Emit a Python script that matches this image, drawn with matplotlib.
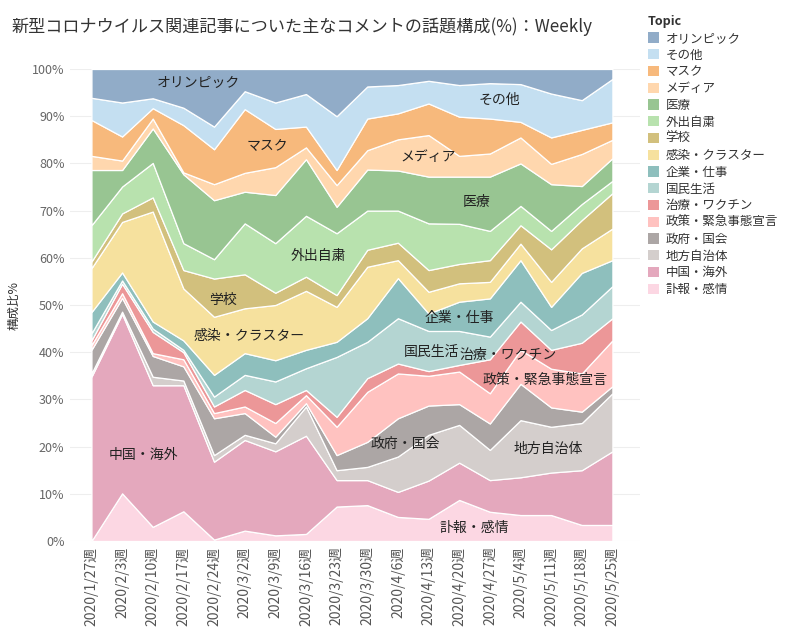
import matplotlib
matplotlib.use("Agg")
import matplotlib.pyplot as plt
from matplotlib.patches import Patch
import numpy as np

plt.rcParams['font.family'] = ['Noto Sans CJK JP', 'DejaVu Sans']

weeks = ["2020/1/27週", "2020/2/3週", "2020/2/10週", "2020/2/17週", "2020/2/24週",
         "2020/3/2週", "2020/3/9週", "2020/3/16週", "2020/3/23週", "2020/3/30週",
         "2020/4/6週", "2020/4/13週", "2020/4/20週", "2020/4/27週", "2020/5/4週",
         "2020/5/11週", "2020/5/18週", "2020/5/25週"]

# values in %, bottom of stack first
fuho      = [0.0, 10.1, 3.0, 6.3, 0.3, 2.2, 1.2, 1.5, 7.3, 7.6, 5.1, 4.7, 8.7, 6.2, 5.5, 5.5, 3.4, 3.4]
chugoku   = [34.8, 38.0, 30.0, 26.7, 16.5, 19.2, 17.8, 20.8, 5.6, 5.3, 5.3, 8.1, 7.9, 6.7, 8.0, 9.0, 11.6, 15.6]
chiho     = [0.7, 0.5, 1.8, 1.0, 1.4, 1.1, 1.7, 6.2, 2.1, 2.8, 7.5, 9.7, 8.0, 6.4, 12.1, 9.7, 10.0, 12.3]
seifu     = [5.0, 2.9, 4.4, 3.0, 7.8, 4.6, 1.4, 0.7, 3.2, 5.3, 8.1, 6.2, 4.4, 5.6, 7.7, 4.1, 2.4, 1.5]
seisaku   = [1.0, 1.0, 0.6, 1.5, 1.1, 1.4, 2.9, 1.7, 6.0, 10.6, 9.5, 6.3, 6.9, 6.4, 7.2, 8.2, 8.1, 9.7]
chiryo    = [1.0, 2.0, 4.5, 1.5, 1.4, 3.5, 4.0, 1.1, 2.1, 2.9, 2.1, 1.0, 1.4, 7.2, 6.0, 4.0, 6.5, 4.7]
kokumin   = [1.5, 0.7, 0.7, 0.5, 2.1, 3.2, 4.8, 4.6, 12.7, 7.7, 9.6, 8.5, 7.2, 4.8, 4.2, 4.2, 6.0, 6.8]
kigyo     = [4.5, 1.7, 1.5, 2.0, 4.6, 4.6, 4.5, 3.9, 3.2, 5.0, 8.5, 3.7, 6.2, 8.1, 8.8, 4.9, 8.8, 5.5]
kansen    = [9.3, 10.7, 23.3, 11.0, 12.3, 9.5, 11.7, 12.5, 7.4, 10.9, 3.8, 4.6, 3.9, 3.5, 3.5, 5.3, 5.2, 6.7]
gakko     = [1.4, 1.8, 3.0, 3.9, 8.1, 7.2, 2.6, 3.0, 2.5, 3.6, 3.7, 4.6, 4.1, 4.6, 3.9, 6.9, 6.0, 7.5]
gaishutsu = [7.7, 5.7, 7.3, 5.7, 4.1, 10.8, 10.5, 12.9, 13.1, 8.3, 6.8, 9.9, 8.5, 6.2, 4.1, 3.9, 3.4, 2.6]
iryo      = [11.7, 3.5, 7.3, 14.6, 12.5, 6.7, 10.2, 12.0, 5.6, 8.7, 8.5, 9.9, 10.0, 11.5, 9.0, 9.9, 3.8, 4.8]
media     = [3.0, 2.0, 2.1, 0.4, 3.4, 4.0, 5.9, 2.5, 4.6, 4.1, 6.6, 8.8, 4.4, 4.9, 5.5, 4.3, 6.8, 3.9]
mask      = [7.6, 5.1, 2.2, 10.0, 7.4, 13.5, 8.1, 4.4, 3.2, 6.7, 5.5, 6.7, 8.3, 7.4, 3.3, 5.6, 5.1, 3.7]
sonota    = [4.7, 7.2, 2.1, 3.7, 4.8, 3.8, 5.6, 6.9, 11.4, 6.8, 6.0, 4.8, 6.7, 7.5, 8.0, 9.3, 6.3, 9.2]
olympic   = [6.1, 7.1, 6.2, 8.2, 12.2, 4.7, 7.1, 5.3, 10.0, 3.7, 3.4, 2.5, 3.4, 3.0, 3.2, 5.2, 6.6, 2.1]

topics = ["訃報・感情", "中国・海外", "地方自治体", "政府・国会", "政策・緊急事態宣言",
          "治療・ワクチン", "国民生活", "企業・仕事", "感染・クラスター", "学校",
          "外出自粛", "医療", "メディア", "マスク", "その他", "オリンピック"]
series = [fuho, chugoku, chiho, seifu, seisaku, chiryo, kokumin, kigyo, kansen,
          gakko, gaishutsu, iryo, media, mask, sonota, olympic]
base_colors = ["#FABFD2", "#D37295", "#BAB0AC", "#79706E", "#FF9D9A", "#E15759",
               "#86BCB6", "#499894", "#F1CE63", "#B6992D", "#8CD17D", "#59A14F",
               "#FFBE7D", "#F28E2B", "#A0CBE8", "#4E79A7"]

def soften(hexc, a=0.62):
    c = np.array(matplotlib.colors.to_rgb(hexc))
    return tuple(1 - (1 - c) * a)

colors = [soften(c) for c in base_colors]

fig = plt.figure(figsize=(8, 6.4), dpi=100)
ax = fig.add_axes([70/800, 1 - 541/640, (640-70)/800, (541-69)/640])

x = np.arange(len(weeks))
data = np.array(series, dtype=float)
data = data / data.sum(axis=0) * 100
ax.stackplot(x, data, colors=colors, edgecolor='white', linewidth=0.9)

ax.set_xlim(-0.7, 17.9)
ax.set_ylim(0, 100)
ax.set_yticks(np.arange(0, 101, 10))
ax.set_yticklabels([f"{v}%" for v in range(0, 101, 10)], fontsize=9, color='#666666')
ax.set_xticks(x)
ax.set_xticklabels(weeks, rotation=90, fontsize=10, color='#555555')
ax.tick_params(length=0, pad=4)
ax.grid(axis='y', color='#eeeeee', linewidth=0.8)
ax.set_axisbelow(True)
for s in ax.spines.values():
    s.set_visible(False)
ax.set_ylabel("構成比%", fontsize=9, color='#333333', labelpad=8)

labels = [("オリンピック", 3.5, 97.0), ("マスク", 5.75, 83.7), ("メディア", 11.0, 81.4),
          ("その他", 13.3, 93.4), ("医療", 12.55, 71.8), ("外出自粛", 7.4, 60.4),
          ("学校", 4.3, 51.1), ("感染・クラスター", 5.15, 43.4), ("企業・仕事", 12.0, 47.2),
          ("国民生活", 11.1, 40.0), ("治療・ワクチン", 13.6, 39.4),
          ("政策・緊急事態宣言", 14.8, 34.1), ("政府・国会", 10.25, 20.6),
          ("地方自治体", 14.9, 19.5), ("中国・海外", 1.7, 18.2), ("訃報・感情", 12.5, 2.8)]
for t, lx, ly in labels:
    ax.text(lx, ly, t, ha='center', va='center', fontsize=10, color='#222222')

fig.text(12/800, 1 - 27/640, "新型コロナウイルス関連記事についた主なコメントの話題構成(%)：Weekly",
         fontsize=12.3, color='#333333', va='center', ha='left')

handles = [Patch(facecolor=c, edgecolor='none') for c in colors[::-1]]
leg = fig.legend(handles, topics[::-1], loc='upper left',
                 bbox_to_anchor=(643/800, 1 - 10/640), frameon=False,
                 title="Topic", fontsize=9, title_fontsize=9,
                 handlelength=0.9, handleheight=0.9, handletextpad=0.5,
                 labelspacing=0.3, borderaxespad=0)
leg._legend_box.align = "left"
leg.get_title().set_fontweight('bold')
leg.get_title().set_color('#333333')
for t in leg.get_texts():
    t.set_color('#333333')

fig.savefig("out.png", dpi=100)
